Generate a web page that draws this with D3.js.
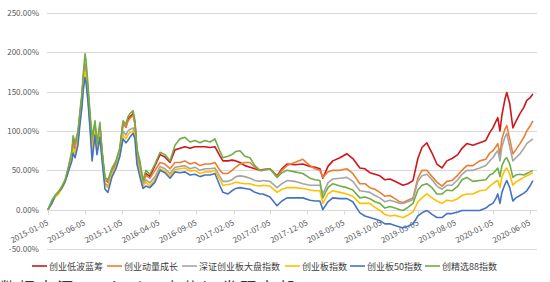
<!DOCTYPE html>
<html>
<head>
<meta charset="utf-8">
<script src="https://cdn.jsdelivr.net/npm/d3@7"></script>
<style>
body { margin: 0; background: #fff; }
text { font-family: "Noto Sans CJK SC", "Noto Sans", sans-serif; }
</style>
</head>
<body>
<script>
var dates = ["2015-01-05","2015-01-21","2015-02-03","2015-02-15","2015-03-03","2015-03-16","2015-03-28","2015-04-13","2015-04-18","2015-04-26",
"2015-05-08","2015-05-16","2015-05-25","2015-05-29","2015-06-06","2015-06-10","2015-06-18","2015-06-26","2015-07-05","2015-07-17",
"2015-07-25","2015-08-06","2015-08-15","2015-08-27","2015-09-08","2015-09-25","2015-10-11","2015-10-27","2015-11-09","2015-11-21",
"2015-11-29","2015-12-07","2015-12-20","2015-12-28","2016-01-05","2016-01-17","2016-01-30","2016-02-11","2016-02-27","2016-03-19",
"2016-04-09","2016-04-29","2016-05-20","2016-06-09","2016-06-30","2016-07-20","2016-08-10","2016-08-30","2016-09-20","2016-10-10",
"2016-10-31","2016-11-20","2016-12-11","2016-12-23","2017-01-13","2017-01-29","2017-02-14","2017-03-03","2017-03-23","2017-04-13",
"2017-05-03","2017-05-24","2017-06-05","2017-07-04","2017-08-02","2017-08-22","2017-09-12","2017-10-14","2017-11-16","2017-12-15",
"2018-01-05","2018-01-25","2018-02-06","2018-02-27","2018-03-19","2018-04-17","2018-05-16","2018-06-09","2018-07-08","2018-07-29",
"2018-08-18","2018-09-08","2018-09-28","2018-10-19","2018-11-08","2018-11-29","2018-12-19","2019-01-01","2019-01-21","2019-02-11",
"2019-03-03","2019-03-20","2019-04-09","2019-04-30","2019-05-20","2019-06-10","2019-06-30","2019-07-21","2019-08-14","2019-08-31",
"2019-09-20","2019-10-15","2019-11-12","2019-12-07","2019-12-23","2020-01-05","2020-01-17","2020-01-25","2020-02-03","2020-02-11",
"2020-02-23","2020-03-02","2020-03-14","2020-03-27","2020-04-08","2020-04-25","2020-05-11","2020-05-23","2020-06-05","2020-06-17"];

var names = ["创业低波蓝筹","创业动量成长","深证创业板大盘指数","创业板指数","创业板50指数","创精选88指数"];
var colors = ["#d2141c","#ed7d31","#a5a5a5","#ffc000","#4472c4","#70ad47"];

var redVals = [0,10,17,20,28,36,50,70,88,78,96,120,145,165,185,180,150,118,85,108,
80,106,72,38,35,50,60,76,110,105,115,118,122,110,75,58,35,46,42,56,
70,67,60,76,78,80,78,80,80,80,79,80,68,62,62,63,62,60,56,54,
52,50,51,52,43,52,58,57,58,55,54,52,40,55,62,66,71,65,53,52,
47,45,43,38,39,36,33,31,33,37,65,79,85,72,58,53,62,65,70,78,
84,82,85,88,98,104,112,117,100,120,140,149,135,104,112,122,130,139,142,147];

var orangeVals = [0,10,17,20,28,36,50,70,86,80,96,120,145,165,185,178,150,118,85,108,
80,106,72,38,35,50,60,76,110,105,112,116,120,108,73,56,34,44,40,50,
60,58,52,60,60,62,58,60,56,58,58,60,50,46,46,50,54,58,60,60,
54,50,50,52,42,50,56,60,64,56,52,50,41,48,50,50,52,46,33,33,
28,26,22,17,18,14,10,9,12,15,40,50,50,42,35,30,36,37,44,50,
56,56,62,64,72,75,80,84,70,90,102,107,90,71,76,84,92,100,106,113];

var grayVals = [0,9,16,20,27,35,48,66,80,74,90,115,140,158,178,172,145,112,78,103,
75,100,68,34,30,47,55,72,100,95,100,102,104,98,66,50,32,38,34,42,
55,52,46,54,55,56,52,54,50,52,52,53,42,36,36,38,42,43,42,40,
37,36,37,36,28,33,37,36,33,31,31,31,20,34,39,40,41,36,24,23,
22,18,15,10,12,10,8,8,10,13,36,43,45,38,30,26,31,31,38,45,
50,50,53,56,62,66,72,75,62,80,92,97,80,62,66,71,78,84,87,90];

var yellowVals = [0,9,16,19,27,35,48,66,78,72,88,112,138,155,175,170,142,110,75,100,
73,98,66,32,28,45,54,70,95,90,95,98,100,94,62,46,30,35,30,38,
52,49,43,51,52,53,49,50,46,48,48,50,38,31,32,33,35,34,33,33,
31,30,31,30,22,26,28,28,27,25,24,24,8,20,24,22,20,17,8,8,
8,3,-1,-6,-8,-7,-9,-10,-7,-3,10,15,20,15,11,8,12,11,14,18,
20,20,24,25,30,33,36,37,28,42,50,53,45,31,35,38,41,43,45,47];

var blueVals = [0,8,18,22,28,36,47,62,72,66,82,108,132,150,168,162,138,105,62,95,
70,92,62,26,22,42,52,68,90,85,88,92,97,90,58,42,27,30,28,35,
50,47,40,48,47,48,44,45,42,44,44,46,30,22,20,24,27,28,27,26,
22,20,20,16,5,11,15,15,15,12,11,11,0,10,15,14,14,10,-4,-8,
-10,-12,-14,-18,-18,-20,-22,-23,-21,-18,-8,-4,-1,-6,-10,-10,-5,-5,-3,-1,
-1,-1,-1,2,6,8,14,20,8,22,32,37,28,11,15,18,21,24,30,37];

var greenVals = [0,12,18,22,30,38,52,75,94,85,100,125,150,170,198,190,160,125,92,113,
84,111,75,41,38,53,62,79,113,109,118,122,126,113,78,62,37,50,45,58,
73,70,62,82,90,92,86,88,85,88,86,90,74,66,68,70,74,75,68,66,
56,50,50,52,41,47,50,48,46,40,38,37,15,28,33,30,28,25,15,16,
14,10,8,2,4,2,0,-1,3,8,25,31,33,28,20,20,25,24,30,38,
41,36,37,38,44,46,50,53,42,56,64,66,58,41,44,45,44,46,48,50];

var seriesVals = [redVals, orangeVals, grayVals, yellowVals, blueVals, greenVals];

var yTicks = [-50, 0, 50, 100, 150, 200, 250];
var xTicks = ["2015-01-05","2015-06-05","2015-11-05","2016-04-05","2016-09-05","2017-02-05","2017-07-05",
"2017-12-05","2018-05-05","2018-10-05","2019-03-05","2019-08-05","2020-01-05","2020-06-05"];

var w = 550, h = 282;
var parse = d3.timeParse("%Y-%m-%d");

var svg = d3.select("body").append("svg")
    .attr("width", w)
    .attr("height", h);

var x = d3.scaleTime()
    .domain([parse("2015-01-05"), parse("2020-07-04")])
    .range([48, 537]);
var y = d3.scaleLinear()
    .domain([-50, 250])
    .range([249, 13]);

// grid lines
svg.append("g").selectAll("line")
    .data(yTicks)
    .enter().append("line")
    .attr("x1", 47).attr("x2", 537)
    .attr("y1", function(d){ return Math.round(y(d)) + 0.5; })
    .attr("y2", function(d){ return Math.round(y(d)) + 0.5; })
    .attr("stroke", "#d9d9d9")
    .attr("stroke-width", 1);

svg.append("g").selectAll("text")
    .data(yTicks)
    .enter().append("text")
    .attr("x", 39)
    .attr("y", function(d){ return y(d) + 3; })
    .attr("text-anchor", "end")
    .attr("font-size", "8px")
    .attr("fill", "#595959")
    .text(function(d){ return d.toFixed(2) + "%"; });

// x ticks at 0 line
var y0 = Math.round(y(0)) + 0.5;
svg.append("g").selectAll("line")
    .data(xTicks)
    .enter().append("line")
    .attr("x1", function(d){ return Math.round(x(parse(d))) + 0.5; })
    .attr("x2", function(d){ return Math.round(x(parse(d))) + 0.5; })
    .attr("y1", y0).attr("y2", y0 + 4)
    .attr("stroke", "#d9d9d9");

svg.append("g").selectAll("text")
    .data(xTicks)
    .enter().append("text")
    .attr("transform", function(d){ return "translate(" + (x(parse(d)) + 1) + "," + (y0 + 14) + ") rotate(-27)"; })
    .attr("text-anchor", "end")
    .attr("font-size", "8px")
    .attr("fill", "#595959")
    .text(function(d){ return d; });

var line = d3.line()
    .x(function(d, i){ return x(parse(dates[i])); })
    .y(function(d){ return y(d); });

svg.append("g").selectAll("path")
    .data(seriesVals)
    .enter().append("path")
    .attr("d", line)
    .attr("fill", "none")
    .attr("stroke", function(d, i){ return colors[i]; })
    .attr("stroke-width", 1.6)
    .attr("stroke-linejoin", "round");

// legend
var legendX = [32, 107, 182, 285, 350, 425];
var leg = svg.append("g").selectAll("g")
    .data(names)
    .enter().append("g")
    .attr("transform", function(d, i){ return "translate(" + legendX[i] + ",266)"; });
leg.append("line")
    .attr("x1", 0).attr("x2", 15)
    .attr("stroke", function(d, i){ return colors[i]; })
    .attr("stroke-width", 1.6);
leg.append("text")
    .attr("x", 17)
    .attr("y", 3.5)
    .attr("font-size", "9px")
    .attr("fill", "#404040")
    .text(function(d){ return d; });

// source line, cut by the bottom edge as in the original
svg.append("text")
    .attr("x", 0)
    .attr("y", 294)
    .attr("font-size", "16px")
    .attr("letter-spacing", "3px")
    .attr("fill", "#333")
    .text("数据来源：Wind，中信证券研究部");
</script>
</body>
</html>
